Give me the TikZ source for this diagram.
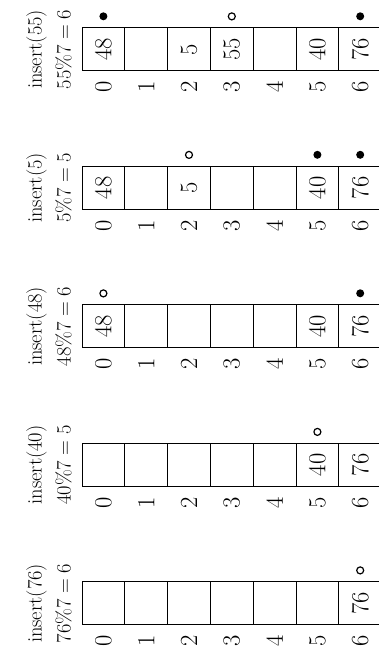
\RequirePackage{fix-cm}
\documentclass[tikz,border=0pt]{standalone}
\usepackage{tikz}
\usetikzlibrary{positioning}

\begin{document}
\begin{tikzpicture}[
    x=1pt, y=1pt,
    celula/.style={draw, line width=1pt, minimum size=42.8pt, inner sep=0pt},
    valor/.style={inner sep=0pt, rotate=90, font=\fontsize{24.6}{28}\selectfont},
    indice/.style={inner sep=0pt, rotate=90, font=\fontsize{24.6}{28}\selectfont},
    rotulo/.style={inner sep=0pt, rotate=90, align=center,
        font=\fontsize{20.5}{29}\selectfont},
    ocupado/.style={circle, fill, inner sep=0pt, minimum size=8pt},
    novo/.style={circle, draw, line width=1.2pt, inner sep=0pt, minimum size=7pt}
]
    \useasboundingbox (0,0) rectangle (379,662);

    \foreach \y/\v/\h [count=\r from 0] in {634/55/6, 495.5/5/5, 357/48/6, 218.5/40/5, 80/76/6} {
        \node[rotulo] (rot\r) at (49, \y-21.4) {insert(\v)\\ $\v\%7=\h$};
        \foreach \i in {0,...,6} {
            \node[celula] (c\r\i) at (103.4+42.8*\i, \y-21.4) {};
            \node[indice] (i\r\i) at (103.4+42.8*\i, \y-59) {\i};
        }
    }

    \foreach \r/\i/\v in {0/0/48, 0/2/5, 0/3/55, 0/5/40, 0/6/76,
        1/0/48, 1/2/5, 1/5/40, 1/6/76, 2/0/48, 2/5/40, 2/6/76,
        3/5/40, 3/6/76, 4/6/76}
        \node[valor] (v\r\i) at (c\r\i) {\v};

    \foreach \r/\i in {0/0, 0/6, 1/5, 1/6, 2/6}
        \node[ocupado, above=7pt of c\r\i] (m\r\i) {};
    \foreach \r/\i in {0/3, 1/2, 2/0, 3/5, 4/6}
        \node[novo, above=7pt of c\r\i] (m\r\i) {};
\end{tikzpicture}
\end{document}
